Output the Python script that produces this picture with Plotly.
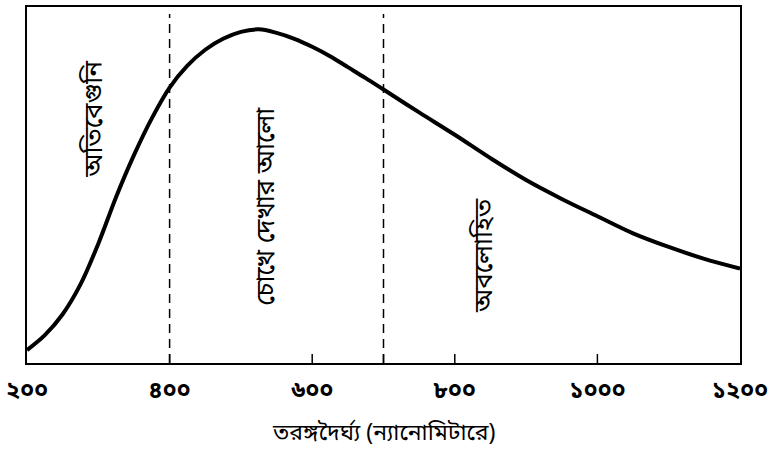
import plotly.graph_objects as go

# Data (relative intensity, arbitrary units)
wavelength_nm = [200, 225, 250, 275, 300, 325, 350, 375, 400, 425, 450, 475, 500, 525,
                 550, 575, 600, 625, 650, 675, 700, 750, 800, 850, 900, 950, 1000,
                 1050, 1100, 1150, 1200]
intensity = [13, 28, 49, 79, 120, 167, 209, 246, 277, 299, 315, 326, 333, 335.5,
             332, 326, 318, 308.5, 297.5, 286.5, 275, 252, 229.5, 206, 184, 165, 147.6,
             130.4, 116.7, 104.7, 95]

boundaries_nm = [400, 700]
tick_vals = [200, 400, 600, 800, 1000, 1200]
tick_text = ["২০০", "৪০০", "৬০০", "৮০০", "১০০০", "১২০০"]
minor_ticks = [400, 600, 700, 800, 1000]

region_labels = ["অতিবেগুনি", "চোখে দেখার আলো", "অবলোহিত"]
region_x = [296, 538, 843]
region_y = [245, 158, 108]
x_title = "তরঙ্গদৈর্ঘ্য (ন্যানোমিটারে)"

FONT = "Noto Sans Bengali, Noto Serif Bengali, Lohit Bengali, FreeSerif, Noto Sans, sans-serif"

fig = go.Figure()
fig.add_trace(go.Scatter(
    x=wavelength_nm, y=intensity, mode="lines",
    line=dict(color="black", width=4, shape="spline", smoothing=1.0),
    hoverinfo="skip", showlegend=False,
))

for b in boundaries_nm:
    fig.add_shape(type="line", x0=b, x1=b, y0=0, y1=351, xref="x", yref="y",
                  line=dict(color="black", width=1.5, dash="9px,6px"))

for t in minor_ticks:
    fig.add_shape(type="line", x0=t, x1=t, y0=0, y1=9, xref="x", yref="y",
                  line=dict(color="black", width=1.5))

for txt, xx, yy in zip(region_labels, region_x, region_y):
    fig.add_annotation(x=xx, y=yy, xref="x", yref="y", text=txt, textangle=-90,
                       showarrow=False, font=dict(family=FONT, size=26, color="black"))

fig.add_annotation(x=0.5, y=-0.2, xref="paper", yref="paper", text=x_title,
                   showarrow=False, yanchor="middle",
                   font=dict(family=FONT, size=23, color="black"))

fig.update_xaxes(range=[200, 1200], tickvals=tick_vals, ticktext=tick_text,
                 showgrid=False, zeroline=False, showline=True, linecolor="black",
                 linewidth=2, mirror=True, ticks="", ticklabelstandoff=5,
                 tickfont=dict(family=FONT, size=23, color="black", weight="bold"))
fig.update_yaxes(range=[0, 358], showgrid=False, zeroline=False, showline=True,
                 linecolor="black", linewidth=2, mirror=True, showticklabels=False,
                 ticks="")

fig.update_layout(
    width=778, height=450,
    margin=dict(l=27, r=38, t=5, b=87),
    paper_bgcolor="white", plot_bgcolor="white",
    showlegend=False,
)

fig.write_html("out.html", config={"displayModeBar": False},
               post_script="document.body.style.margin='0';")
